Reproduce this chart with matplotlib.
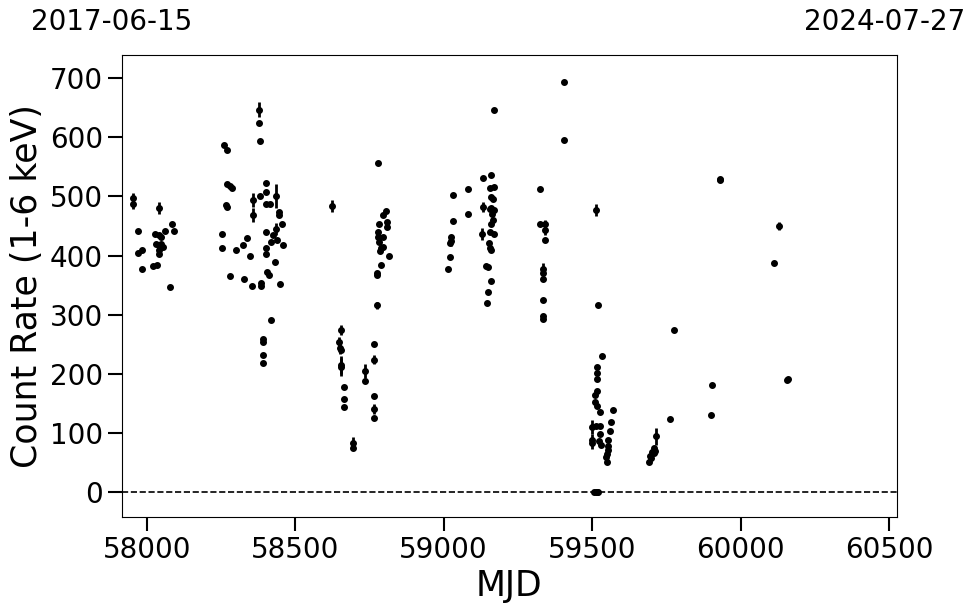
import numpy as np
from matplotlib import pyplot as plt

# MJD, count rate (1-6 keV) and 1-sigma error
mjd = [
    57953, 57953, 58041, 57971, 57971, 57984, 57984, 58021, 58035, 58027,
    58041, 58049, 58061, 58085, 58092, 58030, 58041, 58049, 58055, 58043,
    58041, 58078,
    58269, 58280, 58288, 58269, 58267, 58254, 58254, 58280, 58302, 58325,
    58338, 58348, 58328, 58353, 58385, 58385, 58358, 58358, 58381, 58401,
    58401, 58401, 58415, 58435, 58446, 58446, 58456, 58401, 58434, 58426,
    58420, 58439, 58460, 58401, 58401, 58432, 58406, 58411, 58450, 58418,
    58392, 58392, 58392, 58392, 58379, 58379, 58381, 58260, 58269,
    58625, 58805, 58797, 58810, 58784, 58809, 58780, 58797, 58780, 58784,
    58797, 58786, 58788, 58817, 58788, 58777, 58777, 58777, 58778,
    58654, 58647, 58651, 58653, 58654, 58654, 58664, 58664, 58664,
    58695, 58695, 58736, 58736, 58766, 58766, 58766, 58766, 58766,
    59033, 59083, 59033, 59083, 59025, 59025, 59022, 59023, 59016,
    59168, 59131, 59160, 59157, 59168, 59160, 59165, 59161, 59156, 59168,
    59163, 59166, 59160, 59156, 59168, 59153, 59156, 59160, 59131, 59129,
    59142, 59151, 59159, 59149, 59145,
    59404, 59404, 59323, 59323, 59342, 59343, 59343, 59336, 59336, 59336,
    59336, 59335, 59336, 59514, 59519,
    59535, 59516, 59516, 59516, 59516, 59511, 59511, 59518, 59527, 59570,
    59563, 59561, 59500, 59514, 59527, 59527, 59500, 59500, 59522, 59530,
    59555, 59555, 59552, 59550, 59548, 59550, 59508, 59512, 59516, 59520,
    59716, 59707, 59713, 59702, 59696, 59690, 59710, 59700,
    59775, 59763, 59904, 59900, 59932, 59930, 60129, 60112, 60158, 60160,
]
rate = [
    497, 487, 481, 441, 404, 409, 378, 382, 384, 437,
    435, 431, 442, 454, 442, 420, 418, 420, 415, 409,
    402, 346,
    521, 517, 515, 482, 485, 436, 412, 365, 410, 417,
    429, 400, 360, 349, 348, 353, 494, 468, 501, 522,
    507, 488, 488, 501, 474, 468, 453, 439, 445, 435,
    423, 426, 418, 412, 402, 389, 372, 367, 351, 291,
    258, 254, 232, 218, 647, 625, 593, 587, 578,
    484, 475, 468, 456, 453, 449, 439, 431, 431, 423,
    415, 408, 412, 399, 384, 370, 367, 316, 557,
    274, 254, 243, 240, 215, 211, 177, 158, 143,
    83, 74, 205, 187, 250, 224, 162, 140, 125,
    502, 512, 459, 471, 432, 424, 422, 397, 377,
    647, 532, 537, 514, 516, 499, 495, 481, 478, 477,
    470, 460, 453, 439, 437, 422, 412, 409, 482, 436,
    382, 380, 357, 338, 319,
    694, 595, 513, 454, 454, 443, 427, 378, 370, 360,
    325, 298, 293, 477, 317,
    230, 211, 201, 191, 170, 164, 153, 145, 136, 139,
    118, 103, 110, 112, 112, 98, 88, 82, 86, 79,
    88, 77, 71, 65, 59, 51, 0, 0, 0, 0,
    94, 74, 70, 68, 61, 51, 66, 57,
    274, 123, 181, 130, 530, 527, 450, 388, 189, 191,
]
rate_err = [
    8, 8, 10, 3, 3, 3, 3, 3, 3, 3,
    3, 3, 3, 3, 3, 3, 3, 3, 3, 3,
    3, 3,
    3, 3, 3, 3, 3, 3, 3, 3, 3, 3,
    3, 3, 3, 3, 3, 3, 12, 12, 3, 3,
    3, 3, 3, 20, 3, 3, 3, 3, 10, 3,
    3, 3, 3, 3, 3, 3, 3, 3, 3, 3,
    3, 3, 3, 3, 12, 3, 3, 3, 3,
    10, 3, 3, 3, 3, 3, 3, 3, 3, 3,
    3, 3, 3, 3, 3, 3, 3, 6, 3,
    8, 8, 10, 3, 15, 15, 3, 3, 3,
    10, 3, 12, 3, 3, 8, 3, 8, 3,
    3, 3, 3, 3, 3, 8, 3, 3, 3,
    3, 3, 3, 3, 3, 3, 3, 3, 3, 3,
    3, 3, 3, 3, 3, 3, 3, 3, 8, 10,
    3, 3, 3, 3, 3,
    3, 3, 3, 3, 6, 8, 3, 10, 3, 3,
    3, 3, 3, 10, 3,
    3, 3, 3, 3, 3, 3, 3, 3, 3, 3,
    3, 3, 12, 3, 3, 3, 10, 10, 3, 3,
    3, 3, 3, 3, 3, 3, 2, 2, 2, 2,
    15, 3, 3, 3, 3, 3, 3, 3,
    3, 3, 3, 3, 3, 3, 6, 3, 3, 3,
]

start_date = "2017-06-15"
end_date = "2024-07-27"

fig = plt.figure(figsize=(9.74, 6.13), dpi=100)
ax = fig.add_axes([0.125, 0.157, 0.796, 0.753])

ax.errorbar(mjd, rate, yerr=rate_err, fmt="o", color="k", ms=4, elinewidth=2, capsize=0)
ax.axhline(0, color="k", ls="--", lw=1.2)

ax.set_xlim(57916, 60527)
ax.set_ylim(-42, 739)
ax.set_xticks(np.arange(58000, 60501, 500))
ax.set_yticks(np.arange(0, 701, 100))
ax.tick_params(labelsize=20, length=10, width=1.5)
ax.set_xlabel("MJD", fontsize=25, labelpad=4)
ax.set_ylabel("Count Rate (1-6 keV)", fontsize=25, labelpad=4)

fig.text(112 / 974, 1 - 22 / 613, start_date, fontsize=20, ha="center", va="center")
fig.text(885 / 974, 1 - 22 / 613, end_date, fontsize=20, ha="center", va="center")

plt.savefig("out.png", dpi=100)
